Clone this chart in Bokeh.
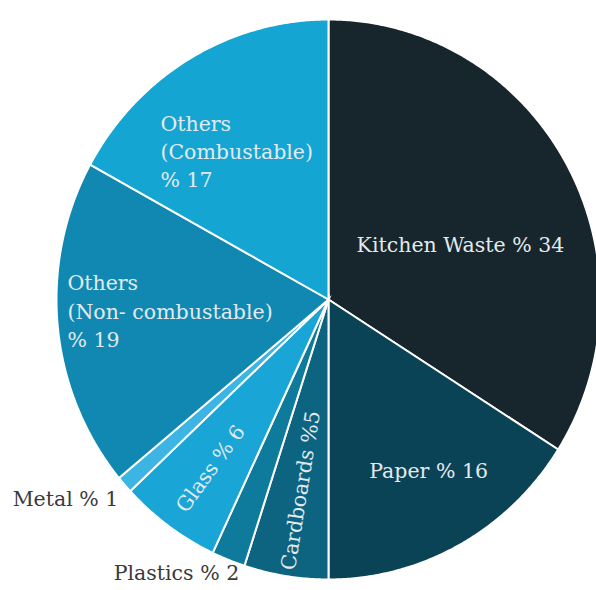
import numpy as np
from bokeh.plotting import figure
from bokeh.models import ColumnDataSource, Range1d
from bokeh.core.properties import value
from bokeh.embed import file_html
from bokeh.resources import INLINE

# ---- data (clockwise from 12 o'clock) ----
categories = ["Kitchen Waste", "Paper", "Cardboards", "Plastics", "Glass", "Metal",
              "Others (Non- combustable)", "Others (Combustable)"]
values = [34, 16, 5, 2, 6, 1, 19, 17]
labels = ["Kitchen Waste % 34", "Paper % 16", "Cardboards %5", "Plastics % 2",
          "Glass % 6", "Metal % 1", "Others\n(Non- combustable)\n% 19",
          "Others\n(Combustable)\n% 17"]
colors = ["#17262d", "#0b4356", "#0c6480", "#0e7b9c", "#19a6d7", "#3cb5e5",
          "#1088b2", "#15a5d3"]

# ---- label layout (data units, pie radius = 1) ----
label_x = [0.485, 0.368, -0.103, -0.559, -0.434, -0.967, -0.960, -0.618]
label_y = [0.196, -0.611, -0.682, -0.975, -0.604, -0.711, -0.043, 0.527]
label_angle_deg = [0, 0, 81, 0, 54, 0, 0, 0]
label_align = ["center", "center", "center", "center", "center", "center", "left", "left"]
label_color = ["#e3eaee", "#e3eaee", "#e3eaee", "#3a3a3a", "#e3eaee", "#3a3a3a",
               "#e3eaee", "#e3eaee"]

W, H = 596, 590
CX, CY = 328, 299          # pie centre inside the figure (px)
RX, RY = 272, 280          # pie radii (px)

total = float(sum(values))
cum = np.concatenate([[0.0], np.cumsum(values)]) / total
xs, ys = [], []
for i in range(len(values)):
    a0, a1 = cum[i] * 2 * np.pi, cum[i + 1] * 2 * np.pi
    t = np.linspace(a0, a1, max(4, int(values[i] * 8)))
    # clockwise from top
    xs.append(np.concatenate([[0.0], np.sin(t), [0.0]]).tolist())
    ys.append(np.concatenate([[0.0], np.cos(t), [0.0]]).tolist())

src = ColumnDataSource(dict(xs=xs, ys=ys, color=colors, cat=categories))

p = figure(width=W, height=H, output_backend="svg", toolbar_location=None,
           x_range=Range1d(-CX / RX, (W - CX) / RX),
           y_range=Range1d(-(H - CY) / RY, CY / RY),
           min_border=0, match_aspect=False)
p.axis.visible = False
p.grid.visible = False
p.outline_line_color = None
p.background_fill_color = "white"
p.border_fill_color = "white"

p.patches("xs", "ys", source=src, fill_color="color", line_color="white",
          line_width=2, line_join="miter")

for i in range(len(labels)):
    p.text(x=[label_x[i]], y=[label_y[i]], text=[labels[i]],
           angle=np.deg2rad(label_angle_deg[i]),
           text_align=label_align[i], text_baseline="middle",
           text_font=value("DejaVu Serif"),
           text_font_size="20.5px",
           text_color=label_color[i], text_line_height=1.18)

open("out.html", "w").write(file_html(p, INLINE))
